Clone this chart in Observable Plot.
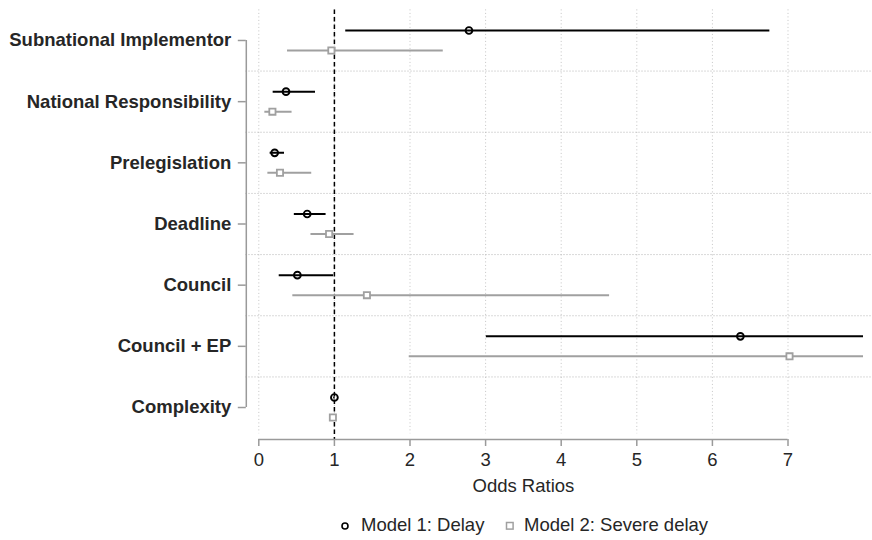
<!DOCTYPE html>
<html>
<head>
<meta charset="utf-8">
<script src="https://cdn.jsdelivr.net/npm/d3@7"></script>
<script src="https://cdn.jsdelivr.net/npm/@observablehq/plot@0.6"></script>
<style>
  html, body { margin: 0; padding: 0; background: #fff; }
  body { width: 872px; height: 540px; overflow: hidden; font-family: "Liberation Sans", Arial, sans-serif; }
  #chart svg [aria-label="y-axis tick label"] { font-weight: bold; }
  #legend { position: relative; height: 26px; font-size: 18.5px; line-height: 22px; color: #262626; }
  #legend .item { position: absolute; top: 0; display: flex; align-items: center; white-space: nowrap; }
  #legend svg { display: block; margin-top: 1px; }
</style>
</head>
<body>
<div id="chart"></div>
<div id="legend">
  <div class="item" style="left:340px">
    <svg width="10" height="10"><circle cx="5" cy="5" r="3" fill="none" stroke="#000" stroke-width="1.6"/></svg>
    <span style="margin-left:11px">Model 1: Delay</span>
  </div>
  <div class="item" style="left:504.5px">
    <svg width="10" height="10"><rect x="1.5" y="1.5" width="6.6" height="6.6" fill="#fff" stroke="#a0a0a0" stroke-width="1.5"/></svg>
    <span style="margin-left:9.5px">Model 2: Severe delay</span>
  </div>
</div>
<script>
// ---- data ----
const categories = ["Subnational Implementor", "National Responsibility", "Prelegislation", "Deadline", "Council", "Council + EP", "Complexity"];
const m1Est = [2.78, 0.36, 0.21, 0.64, 0.51, 6.37, 1.00];
const m1Lo  = [1.15, 0.19, 0.15, 0.47, 0.27, 3.01, 0.99];
const m1Hi  = [6.76, 0.75, 0.34, 0.89, 0.99, 8.00, 1.01];
const m2Est = [0.96, 0.18, 0.28, 0.93, 1.43, 7.02, 0.98];
const m2Lo  = [0.38, 0.08, 0.12, 0.69, 0.45, 1.99, 0.97];
const m2Hi  = [2.44, 0.44, 0.70, 1.26, 4.64, 8.00, 0.99];
const xTicks = [0, 1, 2, 3, 4, 5, 6, 7];
const xLabel = "Odds Ratios";
const refValue = 1;

// ---- build tables ----
const m1 = categories.map((c, i) => ({i, est: m1Est[i], lo: m1Lo[i], hi: m1Hi[i]}));
const m2 = categories.map((c, i) => ({i, est: m2Est[i], lo: m2Lo[i], hi: m2Hi[i]}));
const idx = categories.map((c, i) => i);
const bounds = idx.slice(0, -1).map(i => i + 0.5);
const yTop = -0.5, yBottom = 6.523;

const grey = "#a0a0a0";
const axisGrey = "#9a9a9a";
const textCol = "#262626";

const chart = Plot.plot({
  width: 872,
  height: 514,
  marginLeft: 258.3,
  marginRight: 8.9,
  marginTop: 9.4,
  marginBottom: 75,
  style: {fontFamily: "'Liberation Sans', Arial, sans-serif", fontSize: "18.5px", background: "#fff", overflow: "visible"},
  x: {domain: [0, 8]},
  y: {domain: [yTop, yBottom], reverse: true},
  marks: [
    // vertical dotted grid
    Plot.ruleX(xTicks, {y1: yTop, y2: 6.43, stroke: "#c4c4c4", strokeWidth: 1, strokeDasharray: "1,2.5"}),
    // horizontal dotted separators
    Plot.ruleY(bounds, {insetLeft: -12.8, insetRight: -8.9, stroke: "#b4b4b4", strokeWidth: 1, strokeDasharray: "1,2"}),
    // reference line at 1
    Plot.ruleX([refValue], {stroke: "#000", strokeWidth: 1.5, strokeDasharray: "4.5,3"}),
    // CI lines
    Plot.ruleY(m2, {y: "i", x1: "lo", x2: "hi", dy: 10, stroke: grey, strokeWidth: 2, clip: true}),
    Plot.ruleY(m1, {y: "i", x1: "lo", x2: "hi", dy: -10, stroke: "#000", strokeWidth: 2, clip: true}),
    // point estimates
    Plot.dot(m2, {x: "est", y: "i", dy: 10, symbol: "square", r: 3.5, fill: "#fff", stroke: grey, strokeWidth: 1.8}),
    Plot.dot(m1, {x: "est", y: "i", dy: -10, symbol: "circle", r: 3.4, fill: "none", stroke: "#000", strokeWidth: 1.9}),
    // y axis
    Plot.ruleX([0], {y1: 0, y2: idx.length - 1, dx: -12.5, stroke: axisGrey, strokeWidth: 1.5}),
    Plot.axisY({ticks: idx, tickFormat: i => categories[i], tickSize: 8, tickPadding: 7, dx: -12.5, stroke: axisGrey, strokeWidth: 1.5, fill: textCol, label: null}),
    // x axis
    Plot.ruleY([yBottom], {x1: xTicks[0], x2: xTicks[xTicks.length - 1], stroke: axisGrey, strokeWidth: 1.5}),
    Plot.axisX({ticks: xTicks, tickSize: 7, tickPadding: 6, stroke: axisGrey, strokeWidth: 1.5, fill: textCol, label: null}),
    Plot.text([xLabel], {x: (xTicks[0] + xTicks[xTicks.length - 1]) / 2, frameAnchor: "bottom", dy: 52, fill: textCol, fontSize: 18.5})
  ]
});
document.getElementById("chart").appendChild(chart);
</script>
</body>
</html>
